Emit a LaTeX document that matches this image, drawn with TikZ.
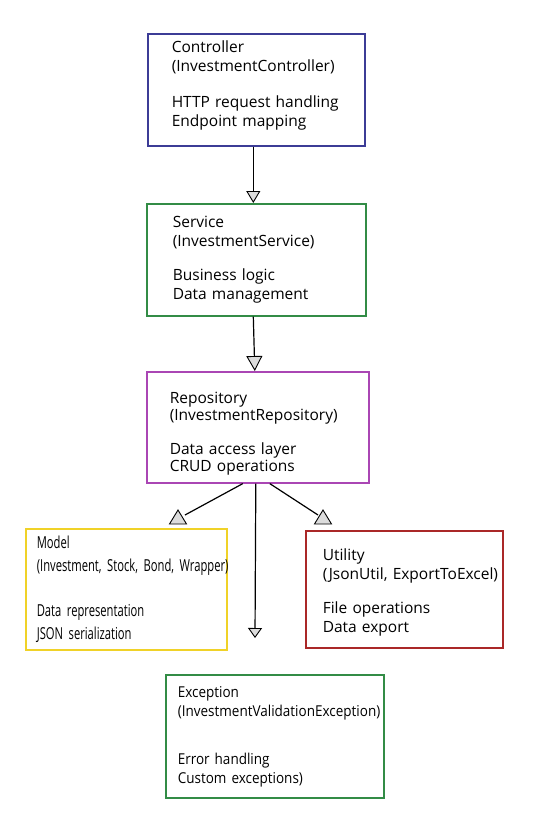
\documentclass[tikz,border=0pt]{standalone}
\usepackage{fontspec}
\setmainfont{Open Sans}
\newfontfamily\narrowfont[FakeStretch=0.68]{Open Sans}
\newfontfamily\semifont[FakeStretch=0.9]{Open Sans}
\usepackage{tikz}
\usetikzlibrary{arrows.meta}
\definecolor{ctrlblue}{RGB}{60,60,150}
\definecolor{layergreen}{RGB}{50,140,70}
\definecolor{repopurple}{RGB}{170,70,180}
\definecolor{modelyellow}{RGB}{240,210,40}
\definecolor{utilred}{RGB}{170,40,40}
\definecolor{tipgray}{RGB}{220,220,220}
\begin{document}
\begin{tikzpicture}[x=1pt, y=-1pt,
    layer/.style={draw, line width=1.6pt, anchor=north west, align=left, inner ysep=0pt, font=\fontsize{15.5}{18.5}\selectfont},
    flow/.style={line width=1.2pt, black},
    marker/.style={draw=black, fill=tipgray, line width=0.9pt, line join=miter}]
\useasboundingbox (0,0) rectangle (534,819);
\node[layer, draw=ctrlblue, minimum height=112pt, text width=169pt, inner xsep=24pt] (ctrl) at (147,33) {Controller\\\mbox{(InvestmentController)}\\[18pt]\mbox{HTTP request handling}\\Endpoint mapping\\[-6.5pt]\mbox{}};
\node[layer, draw=layergreen, minimum height=112pt, text width=167pt, inner xsep=26pt] (svc) at (146,203) {Service\\(InvestmentService)\\[16pt]Business logic\\Data management};
\node[layer, draw=repopurple, minimum height=111pt, text width=176pt, inner xsep=23pt, font=\fontsize{15.5}{17}\selectfont] (repo) at (146,371) {\mbox{}\\[7pt]Repository\\\mbox{(InvestmentRepository)}\\[17pt]Data access layer\\CRUD operations};
\node[layer, draw=modelyellow, minimum height=121pt, text width=179pt, inner xsep=11pt, font=\narrowfont\fontsize{16.5}{22.5}\selectfont] (model) at (25,528) {Model\\\mbox{(Investment, Stock, Bond, Wrapper)}\\[23pt]Data representation\\JSON serialization};
\node[layer, draw=utilred, minimum height=117pt, text width=163pt, inner xsep=17pt] (util) at (305,530) {\mbox{}\\[0pt]Utility\\\mbox{(JsonUtil, ExportToExcel)}\\[16pt]File operations\\Data export};
\node[layer, draw=layergreen, minimum height=123pt, text width=194pt, inner xsep=12pt, font=\semifont\fontsize{15}{19}\selectfont] (exc) at (165,674) {Exception\\\mbox{(InvestmentValidationException)}\\[29pt]Error handling\\Custom exceptions)};
\coordinate (mend) at (185,515);
\coordinate (mtip) at (178,510);
\coordinate (uend) at (318,515);
\coordinate (utip) at (323,510);
\coordinate (eend) at (255,638);
\draw[flow, -{Triangle[length=12pt, width=14pt, fill=tipgray, line width=0.9pt]}] ([xshift=-3pt]ctrl.south) -- ([xshift=-3pt]svc.north);
\draw[flow, -{Triangle[length=15pt, width=16pt, fill=tipgray, line width=0.9pt]}] ([xshift=-3pt]svc.south) -- ([xshift=-3pt]repo.north);
\draw[flow] ([xshift=-15pt]repo.south) -- (mend);
\draw[flow] ([xshift=12pt]repo.south) -- (uend);
\draw[flow, -{Triangle[length=10pt, width=14pt, fill=tipgray, line width=0.9pt]}] ([xshift=-2pt]repo.south) -- (eend);
\filldraw[marker] (mtip) -- ++(-8.5,14) -- ++(17,0) -- cycle;
\filldraw[marker] (utip) -- ++(-8.5,14) -- ++(17,0) -- cycle;
\end{tikzpicture}
\end{document}
